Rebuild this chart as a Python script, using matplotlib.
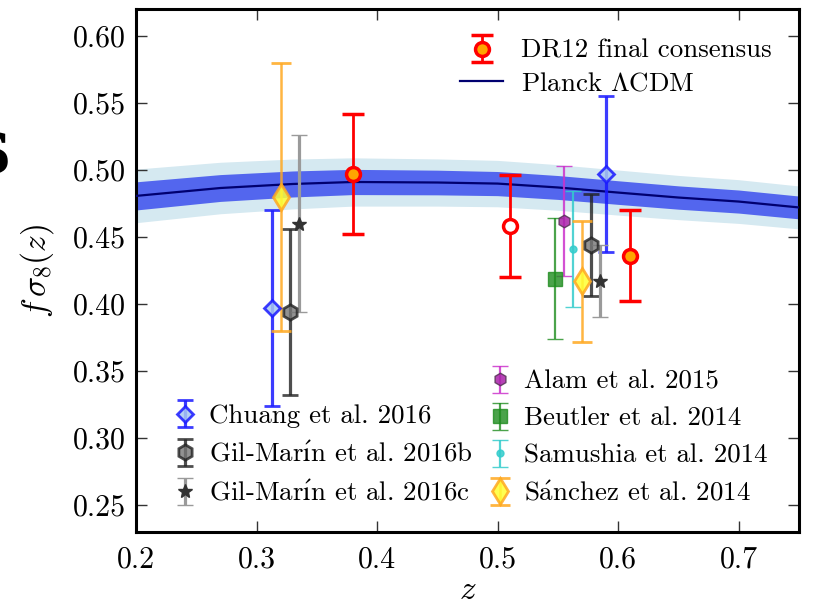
import matplotlib
matplotlib.use("Agg")
import matplotlib.pyplot as plt
from matplotlib.ticker import FormatStrFormatter, MultipleLocator

plt.rcParams['font.family'] = 'serif'
plt.rcParams['font.serif'] = ['cmr10']
plt.rcParams['mathtext.fontset'] = 'cm'
plt.rcParams['axes.formatter.use_mathtext'] = True

# Planck LCDM prediction
planck_z = [0.20, 0.27, 0.33, 0.38, 0.45, 0.50, 0.55, 0.60, 0.65, 0.70, 0.75]
planck_fs8 = [0.4806, 0.4865, 0.4895, 0.4910, 0.4906, 0.4898, 0.4869, 0.4831, 0.4794, 0.4764, 0.4720]
planck_sig1 = [0.0105, 0.0100, 0.0097, 0.0094, 0.0092, 0.0090, 0.0089, 0.0088, 0.0087, 0.0086, 0.0085]
planck_sig2 = [0.0200, 0.0192, 0.0186, 0.0180, 0.0176, 0.0173, 0.0170, 0.0168, 0.0165, 0.0163, 0.0160]

# DR12 final consensus
dr12_z = [0.38, 0.51, 0.61]
dr12_fs8 = [0.497, 0.458, 0.436]
dr12_err = [0.045, 0.038, 0.034]

# other measurements
chuang_z = [0.3125, 0.59]
chuang_fs8 = [0.397, 0.497]
chuang_err = [0.073, 0.058]

gilb_z = [0.3275, 0.5775]
gilb_fs8 = [0.394, 0.444]
gilb_err = [0.062, 0.038]

gilc_z = [0.335, 0.585]
gilc_fs8 = [0.460, 0.417]
gilc_err = [0.066, 0.027]

alam_z = [0.555]
alam_fs8 = [0.462]
alam_err = [0.041]

beutler_z = [0.5475]
beutler_fs8 = [0.419]
beutler_err = [0.045]

samushia_z = [0.5625]
samushia_fs8 = [0.441]
samushia_err = [0.043]

sanchez_z = [0.32, 0.57]
sanchez_fs8 = [0.480, 0.417]
sanchez_err = [0.100, 0.045]

fig = plt.figure(figsize=(8.26, 6.07), dpi=100)
ax = fig.add_axes([0.1646, 0.1236, 0.8027, 0.8616])

lo2 = [m - s for m, s in zip(planck_fs8, planck_sig2)]
hi2 = [m + s for m, s in zip(planck_fs8, planck_sig2)]
lo1 = [m - s for m, s in zip(planck_fs8, planck_sig1)]
hi1 = [m + s for m, s in zip(planck_fs8, planck_sig1)]
ax.fill_between(planck_z, lo2, hi2, color='#d5e9f1', lw=0, zorder=1)
ax.fill_between(planck_z, lo1, hi1, color='#5366ee', lw=0, zorder=2)
planck_line, = ax.plot(planck_z, planck_fs8, color='#000070', lw=1.6, zorder=3,
                       label=r'Planck $\Lambda$CDM')

accent_i = r'$\acute{\mathrm{ı}}$'
chuang = ax.errorbar(chuang_z, chuang_fs8, yerr=chuang_err, fmt='D', color='#1a1aff',
                     mfc='#a8c8f0', mec='#1a1aff', ms=8, mew=2, elinewidth=2.3,
                     capsize=6, capthick=2.3, alpha=0.85, zorder=5,
                     label='Chuang et al. 2016')
gilb = ax.errorbar(gilb_z, gilb_fs8, yerr=gilb_err, fmt='h', color='#222222',
                   mfc='#777777', mec='#222222', ms=11, mew=2, elinewidth=2.3,
                   capsize=6, capthick=2.3, alpha=0.8, zorder=5,
                   label='Gil-Mar' + accent_i + 'n et al. 2016b')
gilc = ax.errorbar(gilc_z, gilc_fs8, yerr=gilc_err, fmt='*', color='#333333',
                   ecolor='#9a9a9a', mfc='#333333', mec='#333333', ms=10, mew=1,
                   elinewidth=2.3, capsize=6, capthick=2.3, zorder=5,
                   label='Gil-Mar' + accent_i + 'n et al. 2016c')
alam = ax.errorbar(alam_z, alam_fs8, yerr=alam_err, fmt='h', color='#cc33cc',
                   mfc='#aa22aa', mec='#553355', ms=9, mew=1, elinewidth=1.6,
                   capsize=6, capthick=1.6, alpha=0.85, zorder=5,
                   label='Alam et al. 2015')
beutler = ax.errorbar(beutler_z, beutler_fs8, yerr=beutler_err, fmt='s', color='#1e8c1e',
                      mfc='#1e8c1e', mec='#1e8c1e', ms=10, mew=1, elinewidth=1.6,
                      capsize=6, capthick=1.6, alpha=0.8, zorder=5,
                      label='Beutler et al. 2014')
samushia = ax.errorbar(samushia_z, samushia_fs8, yerr=samushia_err, fmt='o', color='#33cccc',
                       ms=5, mew=1, elinewidth=1.6, capsize=6, capthick=1.6,
                       alpha=0.85, zorder=5, label='Samushia et al. 2014')
sanchez = ax.errorbar(sanchez_z, sanchez_fs8, yerr=sanchez_err, fmt='d', color='#ffa820',
                      mfc='#ffff33', mec='#ffa820', ms=13, mew=2, elinewidth=1.8,
                      capsize=7, capthick=1.8, alpha=0.85, zorder=5,
                      label=r'S$\acute{\mathrm{a}}$nchez et al. 2014')

# DR12 consensus, middle bin drawn open
filled = [0, 2]
dr12 = ax.errorbar([dr12_z[i] for i in filled], [dr12_fs8[i] for i in filled],
                   yerr=[dr12_err[i] for i in filled], fmt='o', color='red',
                   mfc='orange', mec='red', ms=10, mew=2.5, elinewidth=2,
                   capsize=8, capthick=2, zorder=6, label='DR12 final consensus')
ax.errorbar([dr12_z[1]], [dr12_fs8[1]], yerr=[dr12_err[1]], fmt='o', color='red',
            mfc='white', mec='red', ms=10, mew=2.5, elinewidth=2,
            capsize=8, capthick=2, zorder=6)

ax.set_xlim(0.2, 0.75)
ax.set_ylim(0.23, 0.62)
ax.xaxis.set_major_locator(MultipleLocator(0.1))
ax.yaxis.set_major_locator(MultipleLocator(0.05))
ax.xaxis.set_major_formatter(FormatStrFormatter('%.1f'))
ax.yaxis.set_major_formatter(FormatStrFormatter('%.2f'))
ax.tick_params(direction='in', top=True, right=True, length=8, width=1,
               labelsize=21.5, color='#333333')
ax.tick_params(axis='x', pad=10)
ax.tick_params(axis='y', pad=7)
for s in ax.spines.values():
    s.set_linewidth(2.2)

ax.set_xlabel('$z$', fontsize=24, labelpad=2)
ax.set_ylabel(r'$f\,\sigma_8(z)$', fontsize=24, labelpad=12)

fs = 19.4
leg1 = ax.legend(handles=[dr12, planck_line], loc='upper left', frameon=False,
                 fontsize=fs, handlelength=1.6, handletextpad=0.65,
                 bbox_to_anchor=(0.473, 0.963), borderaxespad=0.0, labelspacing=0.33)
ax.add_artist(leg1)
leg2 = ax.legend(handles=[chuang, gilb, gilc], loc='lower left', frameon=False,
                 fontsize=fs, handlelength=0.6, handletextpad=0.6,
                 bbox_to_anchor=(0.045, 0.03), borderaxespad=0.0, labelspacing=0.49)
ax.add_artist(leg2)
ax.legend(handles=[alam, beutler, samushia, sanchez], loc='lower left', frameon=False,
          fontsize=fs, handlelength=0.6, handletextpad=0.6,
          bbox_to_anchor=(0.52, 0.03), borderaxespad=0.0, labelspacing=0.49)

# cut-off panel letter at the left edge
fig.text(11 / 826, 1 - 157 / 607, 'S', fontsize=40, fontweight='bold',
         family='DejaVu Serif', ha='right', va='center')

fig.savefig('out.png', dpi=100)
